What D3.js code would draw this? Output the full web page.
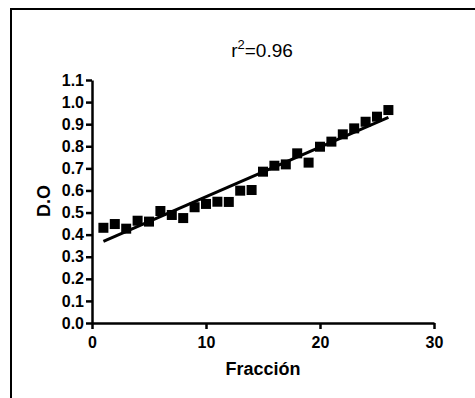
<!DOCTYPE html>
<html>
<head>
<meta charset="utf-8">
<script src="https://cdn.jsdelivr.net/npm/d3@7"></script>
<style>
  body { margin: 0; background: #fff; }
  svg text { font-family: "Liberation Sans", Arial, sans-serif; }
</style>
</head>
<body>
<div id="chart"></div>
<script>
const fraccion = [1, 2, 3, 4, 5, 6, 7, 8, 9, 10, 11, 12, 13, 14, 15, 16, 17, 18, 19, 20, 21, 22, 23, 24, 25, 26];
const dO = [0.431, 0.448, 0.427, 0.463, 0.459, 0.507, 0.489, 0.475, 0.524, 0.539, 0.549, 0.548, 0.599, 0.602,
  0.685, 0.712, 0.718, 0.768, 0.726, 0.798, 0.821, 0.854, 0.881, 0.911, 0.934, 0.964];
const fitX = [1, 26];
const fitY = [0.370, 0.931];
const xTicks = [0, 10, 20, 30];
const yTicks = [0, 0.1, 0.2, 0.3, 0.4, 0.5, 0.6, 0.7, 0.8, 0.9, 1.0, 1.1];

const width = 475, height = 398;
const margin = { top: 80, right: 41, bottom: 75, left: 92 };

const svg = d3.select('#chart').append('svg')
  .attr('width', width)
  .attr('height', height);

// frame
svg.append('rect')
  .attr('x', 11).attr('y', 9)
  .attr('width', 480).attr('height', 400)
  .attr('fill', 'none')
  .attr('stroke', '#000')
  .attr('stroke-width', 2);

const x = d3.scaleLinear()
  .domain([0, 30])
  .range([margin.left, width - margin.right]);

const y = d3.scaleLinear()
  .domain([0, 1.1])
  .range([height - margin.bottom, margin.top]);

const xAxis = g => g
  .attr('transform', `translate(0,${height - margin.bottom})`)
  .call(d3.axisBottom(x).tickValues(xTicks).tickSize(6).tickPadding(8).tickSizeOuter(0))
  .call(g => g.selectAll('text').attr('font-size', 16).attr('font-weight', 'bold').attr('fill', '#000'));

const yAxis = g => g
  .attr('transform', `translate(${margin.left},0)`)
  .call(d3.axisLeft(y).tickValues(yTicks).tickFormat(d3.format('.1f')).tickSize(6).tickPadding(2).tickSizeOuter(0))
  .call(g => g.selectAll('text').attr('font-size', 16).attr('font-weight', 'bold').attr('fill', '#000'));

svg.append('g').call(xAxis);
svg.append('g').call(yAxis);
svg.selectAll('.domain, .tick line')
  .attr('stroke', '#000')
  .attr('stroke-width', 2.5);

// regression line
svg.append('path')
  .datum(fitX.map((d, i) => [d, fitY[i]]))
  .attr('fill', 'none')
  .attr('stroke', '#000')
  .attr('stroke-width', 3)
  .attr('d', d3.line().x(d => x(d[0])).y(d => y(d[1])));

// points
const s = 10;
svg.append('g')
  .selectAll('rect')
  .data(fraccion.map((d, i) => [d, dO[i]]))
  .join('rect')
  .attr('x', d => x(d[0]) - s / 2)
  .attr('y', d => y(d[1]) - s / 2)
  .attr('width', s)
  .attr('height', s)
  .attr('fill', '#000');

// title
const title = svg.append('text')
  .attr('x', 262)
  .attr('y', 57)
  .attr('text-anchor', 'middle')
  .attr('font-size', 19);
title.append('tspan').text('r');
title.append('tspan').attr('dy', -8).attr('font-size', 13).text('2');
title.append('tspan').attr('dy', 8).text('=0.96');

svg.append('text')
  .attr('x', 263)
  .attr('y', 375)
  .attr('text-anchor', 'middle')
  .attr('font-size', 18)
  .attr('font-weight', 'bold')
  .text('Fracción');

svg.append('text')
  .attr('transform', 'translate(50,201) rotate(-90)')
  .attr('text-anchor', 'middle')
  .attr('font-size', 18)
  .attr('font-weight', 'bold')
  .text('D.O');
</script>
</body>
</html>
